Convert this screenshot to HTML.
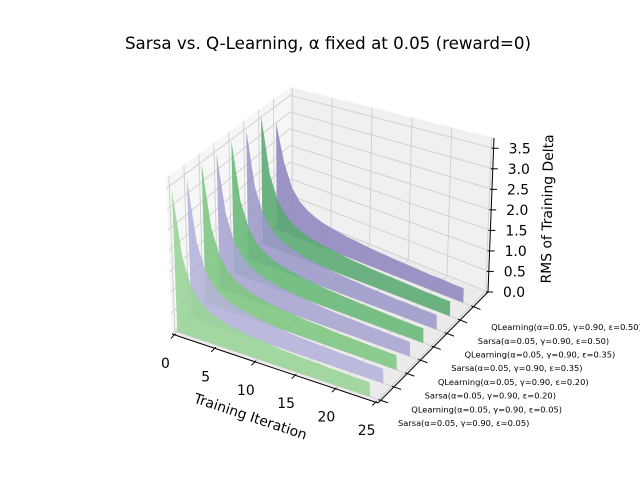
<!DOCTYPE html>
<html><head><meta charset="utf-8"><style>
body{margin:0;background:#fff}
svg{display:block;font-family:"DejaVu Sans","Liberation Sans",sans-serif}
</style></head><body>
<svg id="chart" width="640" height="480" viewBox="0 0 640 480" xmlns="http://www.w3.org/2000/svg">
<rect width="640" height="480" fill="#fff"/>
<text x="328" y="49" text-anchor="middle" font-size="16.7" fill="#000">Sarsa vs. Q-Learning, α fixed at 0.05 (reward=0)</text>
<g id="panes"></g>
<g id="grid"></g>
<g id="series"></g>
<g id="axes"></g>
<text x="0" y="0" transform="translate(249,421) rotate(18.5)" text-anchor="middle" font-size="13.9">Training Iteration</text>
<text x="0" y="0" transform="translate(552,209) rotate(-89)" text-anchor="middle" font-size="13.9">RMS of Training Delta</text>
</svg>
<script>
const seriesNames=["Sarsa(α=0.05, γ=0.90, ε=0.05)","QLearning(α=0.05, γ=0.90, ε=0.05)","Sarsa(α=0.05, γ=0.90, ε=0.20)","QLearning(α=0.05, γ=0.90, ε=0.20)","Sarsa(α=0.05, γ=0.90, ε=0.35)","QLearning(α=0.05, γ=0.90, ε=0.35)","Sarsa(α=0.05, γ=0.90, ε=0.50)","QLearning(α=0.05, γ=0.90, ε=0.50)"];
const iterations=[0,1,2,3,4,5,6,7,8,9,10,11,12,13,14,15,16,17,18,19,20,21,22,23,24];
const s0=[3.41,1.85,1.2,0.92,0.76,0.66,0.6,0.55,0.52,0.48,0.46,0.45,0.42,0.4,0.39,0.38,0.37,0.36,0.36,0.34,0.34,0.33,0.32,0.32,0.31];
const s1=[3.42,1.9,1.25,0.95,0.78,0.68,0.62,0.58,0.53,0.5,0.47,0.45,0.43,0.41,0.4,0.39,0.38,0.37,0.36,0.35,0.35,0.34,0.33,0.33,0.32];
const s2=[3.52,1.95,1.28,0.98,0.8,0.7,0.63,0.58,0.54,0.51,0.48,0.46,0.44,0.42,0.41,0.4,0.38,0.37,0.37,0.36,0.35,0.34,0.34,0.33,0.33];
const s3=[3.49,1.98,1.3,1.0,0.82,0.71,0.64,0.59,0.55,0.52,0.49,0.47,0.45,0.43,0.41,0.4,0.39,0.38,0.37,0.36,0.36,0.35,0.34,0.34,0.33];
const s4=[3.54,2.0,1.32,1.0,0.83,0.72,0.65,0.6,0.56,0.52,0.5,0.47,0.45,0.44,0.42,0.41,0.4,0.39,0.38,0.37,0.36,0.35,0.35,0.34,0.34];
const s5=[3.52,2.02,1.34,1.02,0.84,0.73,0.66,0.6,0.56,0.53,0.5,0.48,0.46,0.44,0.43,0.41,0.4,0.39,0.38,0.37,0.37,0.36,0.35,0.35,0.34];
const s6=[3.61,2.05,1.36,1.03,0.85,0.74,0.66,0.61,0.57,0.54,0.51,0.48,0.46,0.45,0.43,0.42,0.41,0.4,0.39,0.38,0.37,0.36,0.36,0.35,0.35];
const s7=[3.08,2.0,1.35,1.03,0.86,0.75,0.67,0.62,0.58,0.54,0.52,0.49,0.47,0.45,0.44,0.42,0.41,0.4,0.39,0.38,0.37,0.37,0.36,0.35,0.35];
const seriesValues=[s0,s1,s2,s3,s4,s5,s6,s7];
const seriesColors=["#98d496","#b5b3d9","#7dc67f","#a7a5d1","#68b878","#9c98c9","#5aaa72","#9086be"];
const xTicks=[0,5,10,15,20,25];
const zTicks=[0,0.5,1,1.5,2,2.5,3,3.5];
const zTickLabels=["0.0","0.5","1.0","1.5","2.0","2.5","3.0","3.5"];

const NS="http://www.w3.org/2000/svg";
const A=[172,334],B=[378,403],C=[488,292],D=[290,212];
const At=[166,178],Bt=[370,229],Ct=[494,138],Dt=[290,87];
const ZMAX=3.75;
function uOf(x){return (x+0.3)/25.6;}
function vOf(i){return (i+0.2)/8.3;}
function bil(P,Q,R,S,u,v){return [P[0]*(1-u)*(1-v)+Q[0]*u*(1-v)+R[0]*u*v+S[0]*(1-u)*v,P[1]*(1-u)*(1-v)+Q[1]*u*(1-v)+R[1]*u*v+S[1]*(1-u)*v];}
function projUV(u,v,z){const f=bil(A,B,C,D,u,v),t=bil(At,Bt,Ct,Dt,u,v),k=z/ZMAX;return [f[0]+(t[0]-f[0])*k,f[1]+(t[1]-f[1])*k];}
function proj(x,i,z){return projUV(uOf(x),vOf(i),z);}
function pts(a){return a.map(p=>p[0].toFixed(1)+","+p[1].toFixed(1)).join(" ");}
function mk(tag,attrs,parent){const e=document.createElementNS(NS,tag);for(const k in attrs)e.setAttribute(k,attrs[k]);parent.appendChild(e);return e;}
function line(p,q,stroke,w,parent){return mk("line",{x1:p[0],y1:p[1],x2:q[0],y2:q[1],stroke:stroke,"stroke-width":w},parent);}

const panes=document.getElementById("panes");
let e=mk("polygon",{points:pts([projUV(0,0,0),projUV(0,1,0),projUV(0,1,ZMAX),projUV(0,0,ZMAX)]),fill:"#f6f6f6"},panes);


e=mk("polygon",{points:pts([projUV(0,1,0),projUV(1,1,0),projUV(1,1,ZMAX),projUV(0,1,ZMAX)]),fill:"#f0f0f0"},panes);


e=mk("polygon",{points:pts([projUV(0,0,0),projUV(1,0,0),projUV(1,1,0),projUV(0,1,0)]),fill:"#ebebeb"},panes);



const grid=document.getElementById("grid");
const gc="#cfcfcf";
xTicks.forEach(x=>{const u=uOf(x);
 e=line(projUV(u,0,0),projUV(u,1,0),gc,0.9,grid);
 
 
 e=line(projUV(u,1,0),projUV(u,1,ZMAX),gc,0.9,grid);
 
 
});
seriesNames.forEach((n,i)=>{const v=vOf(i);
 e=line(projUV(0,v,0),projUV(1,v,0),gc,0.9,grid);
 
 
 e=line(projUV(0,v,0),projUV(0,v,ZMAX),gc,0.9,grid);
 
 
});
zTicks.forEach(z=>{
 e=line(projUV(0,0,z),projUV(0,1,z),gc,0.9,grid);
 
 
 e=line(projUV(0,1,z),projUV(1,1,z),gc,0.9,grid);
 
 
});

const sg=document.getElementById("series");
for(let i=seriesValues.length-1;i>=0;i--){
 const vals=seriesValues[i];const poly=[];
 iterations.forEach((x,k)=>poly.push(proj(x,i,vals[k])));
 poly.push(proj(iterations[iterations.length-1],i,0));
 poly.push(proj(iterations[0],i,0));
 const p=mk("polygon",{points:pts(poly),fill:seriesColors[i],"fill-opacity":"0.88"},sg);
 
 
}

const ax=document.getElementById("axes");
e=line(projUV(0,0,0),projUV(1,0,0),"#000",1,ax);


e=line(projUV(1,0,0),projUV(1,1,0),"#000",1,ax);


e=line(projUV(1,1,0),projUV(1,1,ZMAX),"#000",1,ax);


xTicks.forEach(x=>{const p=projUV(uOf(x),0,0),q=projUV(uOf(x),-0.03,0);
 e=line([p[0]+(p[0]-q[0])*0.3,p[1]+(p[1]-q[1])*0.3],q,"#000",1,ax);
 
 
 const t=mk("text",{x:p[0]-9,y:p[1]+33,"text-anchor":"middle","font-size":"13.9"},ax);t.textContent=String(x);
 
 
});
seriesNames.forEach((n,i)=>{const v=vOf(i);const p=projUV(1,v,0),q=projUV(1.035,v,0);
 e=line([p[0]-(q[0]-p[0])*0.3,p[1]-(q[1]-p[1])*0.3],q,"#000",1,ax);
 
 
 const t=mk("text",{x:398+13.3*i,y:426-13.7*i,"text-anchor":"start","font-size":"8.3"},ax);t.textContent=n;
 
 
});
zTicks.forEach((z,k)=>{const p=projUV(1,1,z);
 e=line([p[0]-2,p[1]],[p[0]+5,p[1]],"#000",1,ax);
 
 
 const t=mk("text",{x:p[0]+15,y:p[1]+5,"text-anchor":"start","font-size":"13.9"},ax);t.textContent=zTickLabels[k];
 
 
});
</script>
</body></html>
